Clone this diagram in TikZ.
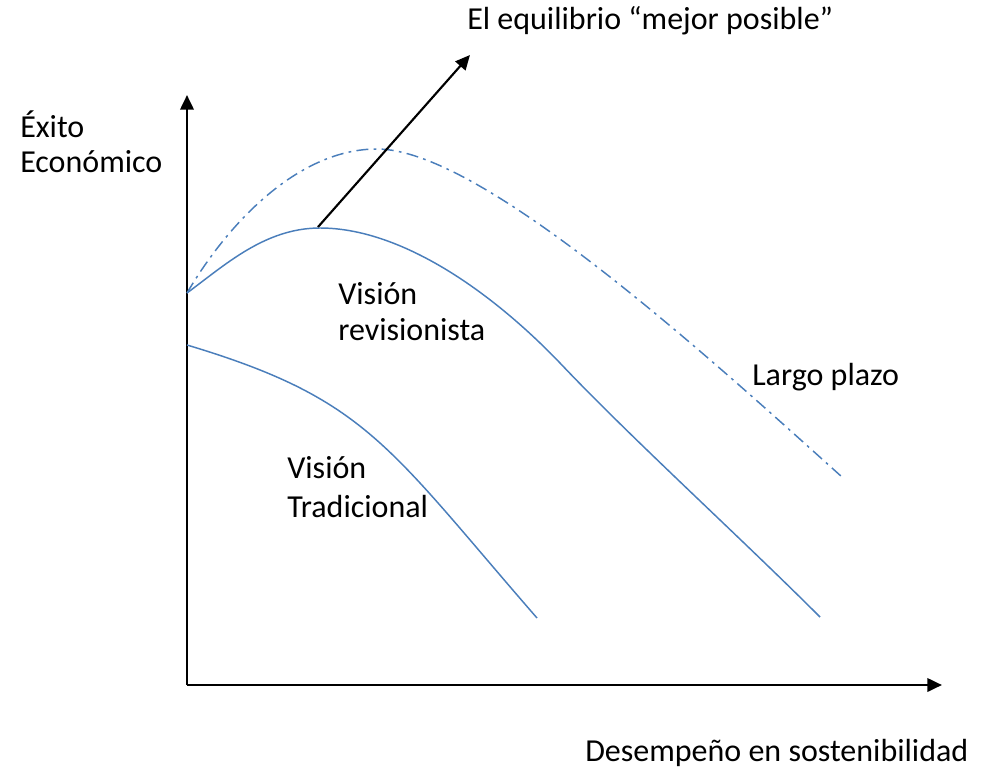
\documentclass[tikz,border=0pt]{standalone}
\usepackage{fontspec}
\setmainfont{Carlito}
\usetikzlibrary{arrows.meta}
\definecolor{curveblue}{HTML}{4A7EBB}
\begin{document}
\begin{tikzpicture}[x=0.75pt,y=-0.75pt,
  axis/.style={line width=2pt,-{Triangle[length=11pt,width=10pt]}},
  pointer/.style={line width=1.6pt,-{Triangle[length=11pt,width=10pt]}},
  curve/.style={curveblue,line width=1.1pt},
  longcurve/.style={curveblue,line width=1.1pt,dash pattern=on 9pt off 4pt on 2pt off 4pt},
  lbl/.style={font=\fontsize{24pt}{29pt}\selectfont,inner sep=0pt,anchor=base west}]
\useasboundingbox (0,0) rectangle (990,768);
\coordinate (O) at (187,685);
\coordinate (Ytop) at (187,95);
\coordinate (Xend) at (942,685);
\draw[axis] (O) -- (Ytop);
\draw[axis] (O) -- (Xend);
% curves
\draw[longcurve] (187,293) .. controls (230,220) and (300,149) .. (377,149)
  .. controls (480,149) and (702,351) .. (842,477);
\draw[curve] (187,293) .. controls (225,265) and (265,228) .. (320,228)
  .. controls (400,228) and (490,290) .. (560,363)
  .. controls (630,437) and (740,537) .. (820,617);
\draw[curve] (187,345) .. controls (367,399) and (387,445.5) .. (537,618);
% pointer
\coordinate (P) at (318,227);
\coordinate (Q) at (470,55);
\draw[pointer] (P) -- (Q);
% labels
\node[lbl] (t1) at (20,137) {Éxito};
\node[lbl] (t2) at (20,172) {Económico};
\node[lbl] (t3) at (467,29) {El equilibrio “mejor posible”};
\node[lbl] (t4) at (338,304) {Visión};
\node[lbl] (t5) at (338,340) {revisionista};
\node[lbl] (t6) at (752,385) {Largo plazo};
\node[lbl] (t7) at (287,478) {Visión};
\node[lbl] (t8) at (287,517) {Tradicional};
\node[lbl] (t9) at (585,761) {Desempeño en sostenibilidad};
\end{tikzpicture}
\end{document}
